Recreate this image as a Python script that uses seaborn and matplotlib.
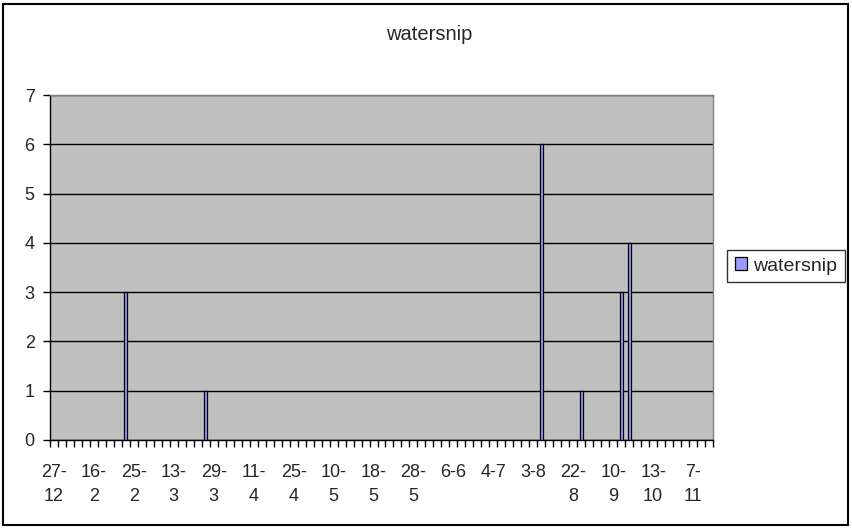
import numpy as np
import pandas as pd
import matplotlib.pyplot as plt
import matplotlib.patches as mpatches
import seaborn as sns

# data: telling per datum (83 datums op de as, elke 5e label zichtbaar)
n_datums = 83
tick_labels = ['27-\n12', '16-\n2', '25-\n2', '13-\n3', '29-\n3', '11-\n4', '25-\n4',
               '10-\n5', '18-\n5', '28-\n5', '6-6', '4-7', '3-8', '22-\n8', '10-\n9',
               '13-\n10', '7-\n11']
bar_pos = [9, 19, 61, 66, 71, 72]
bar_vals = [3, 1, 6, 1, 3, 4]
series_name = 'watersnip'

sns.set_style('white')
plt.rcParams['font.family'] = ['Liberation Sans', 'DejaVu Sans']
plt.rcParams['font.size'] = 13

df = pd.DataFrame({'datum': [str(p) for p in bar_pos], 'aantal': bar_vals})
order = [str(i) for i in range(n_datums)]

fig = plt.figure(figsize=(8.52, 5.29), dpi=100)
ax = fig.add_axes([50 / 852, 1 - 440 / 529, 663 / 852, 345 / 529])
ax.set_facecolor('#C0C0C0')

sns.barplot(data=df, x='datum', y='aantal', order=order, color='#9999FF',
            saturation=1, edgecolor='black', linewidth=0.9, width=0.4,
            label=series_name, legend=False, ax=ax)

ax.set_xlim(-0.5, n_datums - 0.5)
ax.set_ylim(0, 7)
ax.set_yticks(range(0, 8))
ax.set_xticks(range(0, 5 * len(tick_labels), 5))
ax.set_xticklabels(tick_labels, linespacing=1.6, fontsize=13)
ax.set_xticks(np.arange(-0.5, n_datums, 1), minor=True)
ax.tick_params(axis='x', which='major', bottom=True, length=0, pad=17)
ax.tick_params(axis='x', which='minor', bottom=True, length=5, width=1,
               color='black', direction='out')
ax.tick_params(axis='y', which='major', left=True, length=5, width=1,
               color='black', direction='out', pad=6, labelsize=13)
ax.set_xlabel('')
ax.set_ylabel('')
if ax.get_legend() is not None:
    ax.get_legend().remove()

ax.set_axisbelow(True)
ax.yaxis.grid(True, color='black', linewidth=1)
for s in ['left', 'bottom']:
    ax.spines[s].set_color('black')
    ax.spines[s].set_linewidth(1)
for s in ['top', 'right']:
    ax.spines[s].set_color('#808080')
    ax.spines[s].set_linewidth(1)

fig.text(429 / 852, 1 - 35 / 529, series_name, ha='center', va='center', fontsize=14.5)

handles, labels = ax.get_legend_handles_labels()
leg = fig.legend(handles, labels, loc='center', bbox_to_anchor=(786 / 852, 1 - 266 / 529),
                 frameon=True, fancybox=False, edgecolor='black', handlelength=0.6,
                 handleheight=0.6, handletextpad=0.3, borderpad=0.4, borderaxespad=0,
                 fontsize=14)
leg.get_frame().set_linewidth(1)

fig.patches.append(mpatches.Rectangle((3 / 852, 4 / 529), 845 / 852, 521 / 529,
                                      transform=fig.transFigure, fill=False,
                                      edgecolor='black', linewidth=1.5))

fig.savefig('out.png', dpi=100, facecolor='white')
